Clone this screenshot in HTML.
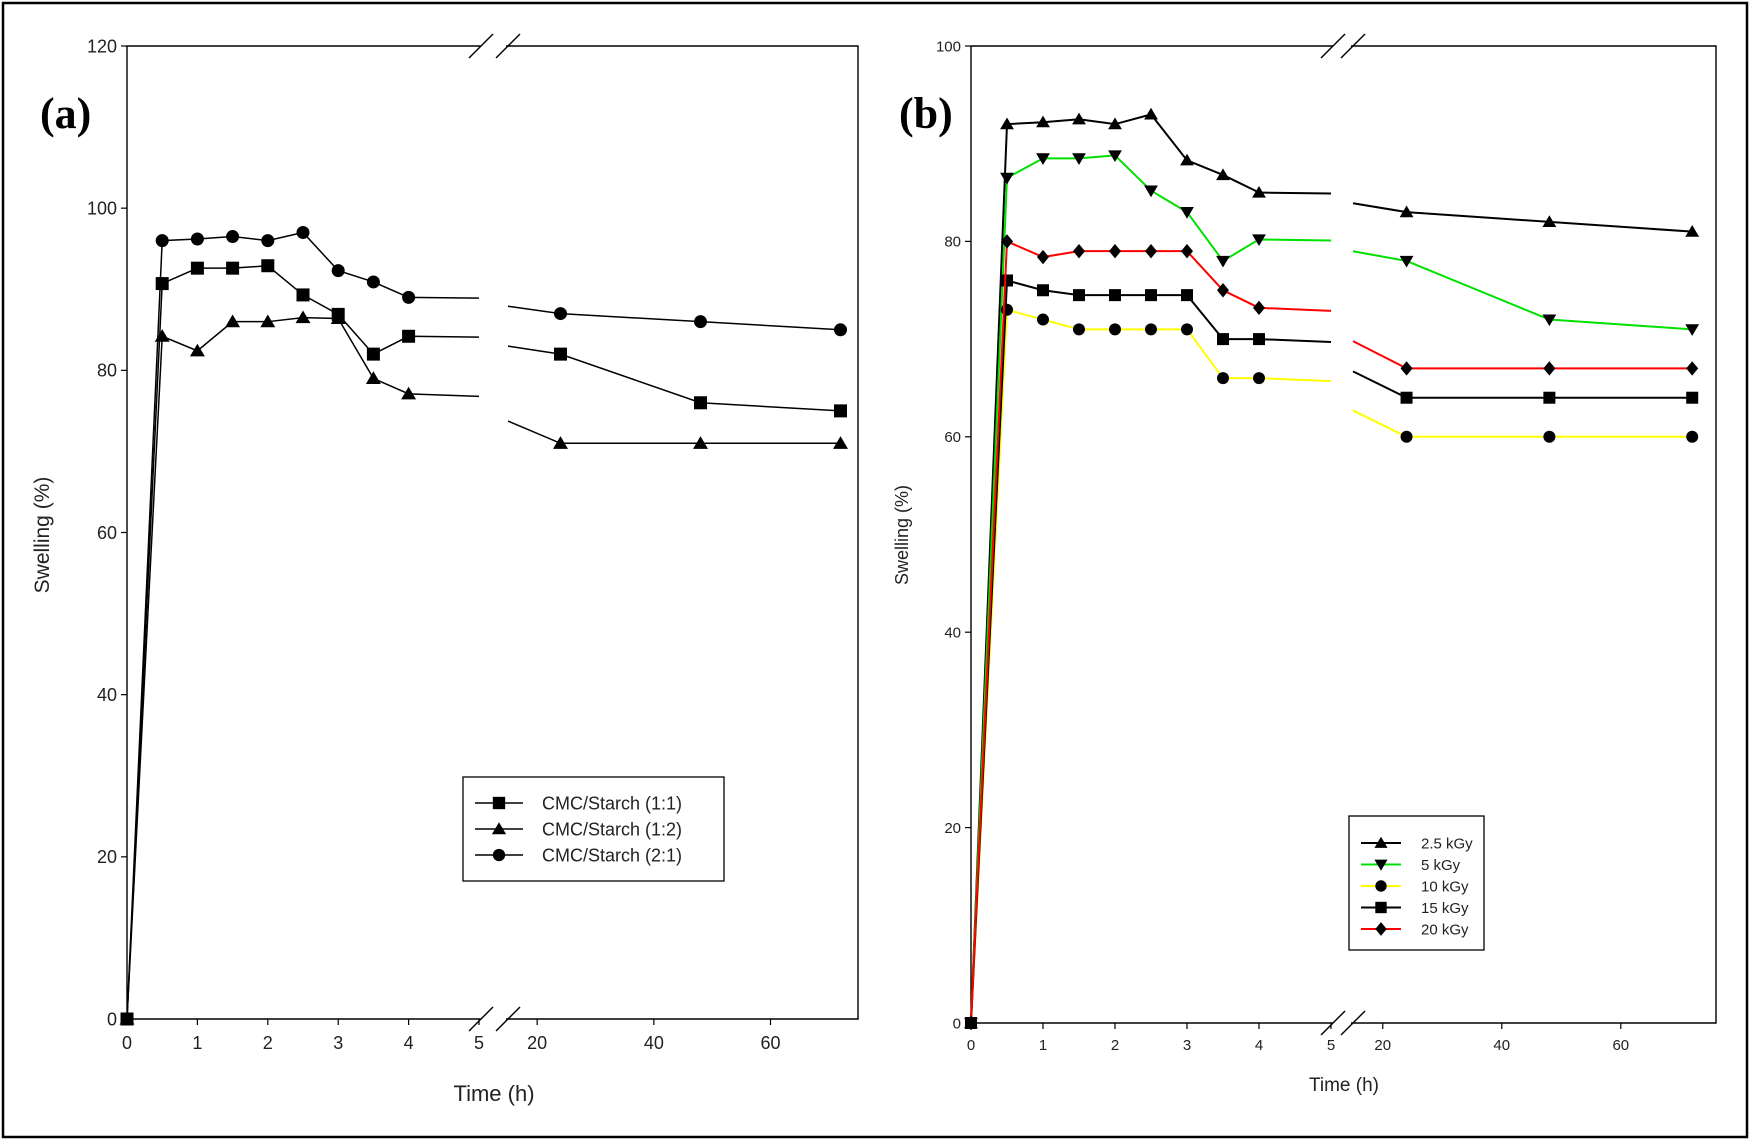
<!DOCTYPE html>
<html><head><meta charset="utf-8"><style>
html,body{margin:0;padding:0;background:#fff;}
svg{display:block;font-family:"Liberation Sans",Arial,sans-serif;}
</style></head><body>
<svg id="s" width="1750" height="1140" xmlns="http://www.w3.org/2000/svg">
<rect x="3" y="3" width="1744" height="1134" fill="#fff" stroke="#000" stroke-width="2.5"/>
</svg>
<script>
// Panel (a) data
const timesA = [0,0.5,1,1.5,2,2.5,3,3.5,4,24,48,72];
const seriesA11 = [0,90.7,92.6,92.6,92.9,89.3,86.9,82,84.2,82,76,75];
const seriesA12 = [0,84.2,82.4,86,86,86.5,86.4,79,77.1,71,71,71];
const seriesA21 = [0,96,96.2,96.5,96,97,92.3,90.9,89,87,86,85];
const namesA = ["CMC/Starch (1:1)","CMC/Starch (1:2)","CMC/Starch (2:1)"];
const yTicksA = [0,20,40,60,80,100,120];
const xTicksLow = [0,1,2,3,4,5];
const xTicksHigh = [20,40,60];
// Panel (b) data
const timesB = [0,0.5,1,1.5,2,2.5,3,3.5,4,24,48,72];
const seriesB25 = [0,92,92.2,92.5,92,93,88.3,86.8,85,83,82,81];
const seriesB5 = [0,86.5,88.5,88.5,88.8,85.2,83,78,80.2,78,72,71];
const seriesB10 = [0,73,72,71,71,71,71,66,66,60,60,60];
const seriesB15 = [0,76,75,74.5,74.5,74.5,74.5,70,70,64,64,64];
const seriesB20 = [0,80,78.4,79,79,79,79,75,73.2,67,67,67];
const namesB = ["2.5 kGy","5 kGy","10 kGy","15 kGy","20 kGy"];
const yTicksB = [0,20,40,60,80,100];

const NS="http://www.w3.org/2000/svg";
const svg=document.getElementById('s');
function mk(tag,attrs,parent){const e=document.createElementNS(NS,tag);for(const k in attrs)e.setAttribute(k,attrs[k]);(parent||svg).appendChild(e);return e;}

function marker(g,shape,x,y,r){
  let e;
  if(shape==='square') e=mk('rect',{x:x-r,y:y-r,width:2*r,height:2*r,fill:'#000'},g);
  else if(shape==='circle') e=mk('circle',{cx:x,cy:y,r:r,fill:'#000'},g);
  else if(shape==='up') e=mk('polygon',{points:`${x},${y-r*1.1} ${x-r*1.15},${y+r*0.85} ${x+r*1.15},${y+r*0.85}`,fill:'#000'},g);
  else if(shape==='down') e=mk('polygon',{points:`${x},${y+r*1.1} ${x-r*1.15},${y-r*0.85} ${x+r*1.15},${y-r*0.85}`,fill:'#000'},g);
  else e=mk('polygon',{points:`${x},${y-r*1.2} ${x+r},${y} ${x},${y+r*1.2} ${x-r},${y}`,fill:'#000'},g);
  
  
}

function panel(cfg){
  const P=cfg;
  const xs=v=> v<=5 ? P.x0 + v*(P.x1-P.x0)/5 : P.x2 + (v-15)*(P.x3-P.x2)/(P.xmax-15);
  const ys=v=> P.yb - v*(P.yb-P.yt)/P.ymax;
  const g=mk('g',{});
  
  
  // axes frame with breaks
  const ax=mk('path',{d:`M${P.x0},${P.yt}V${P.yb}H${P.x1+2}M${P.x2-2},${P.yb}H${P.x3}V${P.yt}H${P.x2-2}M${P.x1+2},${P.yt}H${P.x0}`,fill:'none',stroke:'#000','stroke-width':1.4},g);
  
  
  [P.yt,P.yb].forEach(yy=>{
    [P.x1-10,P.x2-12].forEach(bx=>{
      const b=mk('line',{x1:bx,y1:yy+12,x2:bx+24,y2:yy-12,stroke:'#000','stroke-width':1.4},g);
      
      
    });
  });
  yTicksOf(P).forEach(t=>{
    const y=ys(t);
    mk('line',{x1:P.x0-6,y1:y,x2:P.x0,y2:y,stroke:'#000','stroke-width':1.2},g);
    const tx=mk('text',{x:P.x0-10,y:y+P.fs*0.35,'text-anchor':'end','font-size':P.fs,fill:'#222'},g);
    tx.textContent=t;
    
    
  });
  xTicksLow.concat(xTicksHigh).forEach(t=>{
    const x=xs(t);
    mk('line',{x1:x,y1:P.yb,x2:x,y2:P.yb+6,stroke:'#000','stroke-width':1.2},g);
    const tx=mk('text',{x:x,y:P.yb+P.fs+12,'text-anchor':'middle','font-size':P.fs,fill:'#222'},g);
    tx.textContent=t;
    
    
  });
  const xt=mk('text',{x:P.xtX,y:P.xtY,'text-anchor':'middle','font-size':P.fs+4,fill:'#222'},g);
  xt.textContent='Time (h)';
  
  
  const yt=mk('text',{x:0,y:0,'text-anchor':'middle','font-size':P.fs+3,fill:'#222',transform:`translate(${P.ytX},${P.ytY}) rotate(-90)`},g);
  yt.textContent='Swelling (%)';
  
  
  const lb=mk('text',{x:P.lbX,y:P.lbY,'font-size':44,'font-weight':'bold','font-family':'"Liberation Serif",serif',fill:'#000'},g);
  lb.textContent=P.label;
  
  
  // series
  P.series.forEach(s=>{
    const sg=mk('g',{},g);
    
    
    let d='';
    for(let i=0;i<P.times.length;i++){
      const t=P.times[i],v=s.vals[i];
      if(i===0){d+=`M${xs(t)},${ys(v)}`;continue;}
      const tp=P.times[i-1],vp=s.vals[i-1];
      if(tp<=5&&t>15){
        const v5=vp+(v-vp)*(5-tp)/(t-tp), v15=vp+(v-vp)*(15-tp)/(t-tp);
        d+=`L${xs(5)},${ys(v5)}M${xs(15)},${ys(v15)}`;
      }
      d+=`L${xs(t)},${ys(v)}`;
    }
    const p=mk('path',{d:d,fill:'none',stroke:s.color,'stroke-width':P.lw},sg);
    
    
    P.times.forEach((t,i)=>marker(sg,s.shape,xs(t),ys(s.vals[i]),P.mr));
  });
  // legend
  const L=P.legend;
  const lg=mk('g',{},g);
  
  
  mk('rect',{x:L.x,y:L.y,width:L.w,height:L.h,fill:'#fff',stroke:'#000','stroke-width':1.3},lg);
  P.series.forEach((s,i)=>{
    const yy=L.y+L.pad+i*L.dy;
    const e=mk('g',{},lg);
    
    
    mk('line',{x1:L.x+12,y1:yy,x2:L.x+12+L.lineW,y2:yy,stroke:s.color,'stroke-width':P.lw},e);
    marker(e,s.shape,L.x+12+L.lineW/2,yy,P.mr*0.95);
    const tx=mk('text',{x:L.x+L.tx,y:yy+L.fs*0.36,'font-size':L.fs,fill:'#222'},e);
    tx.textContent=s.name;
  });
}
function yTicksOf(P){return P.yticks;}

panel({name:'panel-a',label:'(a)',lbX:40,lbY:128,x0:127,x1:479,x2:508,x3:858,xmax:75,yt:46,yb:1019,ymax:120,
  yticks:yTicksA,times:timesA,fs:18,lw:1.5,mr:6.5,xtX:494,xtY:1101,ytX:49,ytY:535,
  series:[{name:namesA[0],vals:seriesA11,shape:'square',color:'#000'},
          {name:namesA[1],vals:seriesA12,shape:'up',color:'#000'},
          {name:namesA[2],vals:seriesA21,shape:'circle',color:'#000'}],
  legend:{x:463,y:777,w:261,h:104,pad:26,dy:26,lineW:48,tx:79,fs:18}});

panel({name:'panel-b',label:'(b)',lbX:899,lbY:128,x0:971,x1:1331,x2:1353,x3:1716,xmax:76,yt:46,yb:1023,ymax:100,
  yticks:yTicksB,times:timesB,fs:15,lw:2,mr:6,xtX:1344,xtY:1091,ytX:908,ytY:535,
  series:[{name:namesB[0],vals:seriesB25,shape:'up',color:'#000'},
          {name:namesB[1],vals:seriesB5,shape:'down',color:'#00e000'},
          {name:namesB[2],vals:seriesB10,shape:'circle',color:'#ffff00'},
          {name:namesB[3],vals:seriesB15,shape:'square',color:'#000'},
          {name:namesB[4],vals:seriesB20,shape:'diamond',color:'#ff0000'}],
  legend:{x:1349,y:816,w:135,h:134,pad:27,dy:21.5,lineW:40,tx:72,fs:15}});
</script>
</body></html>
